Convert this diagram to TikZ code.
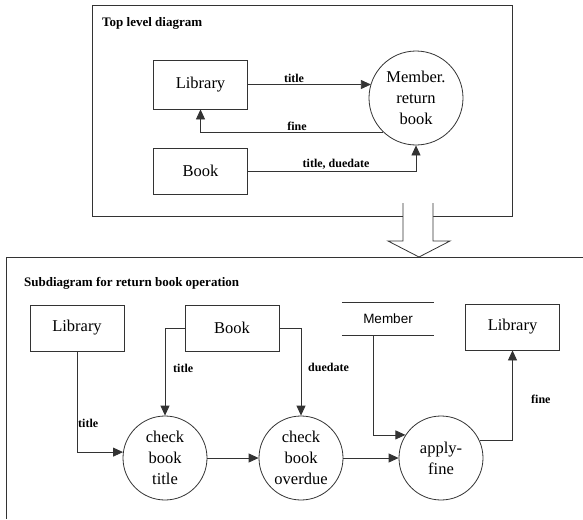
\documentclass[tikz,border=0pt]{standalone}
\usepackage{fontspec}
\setmainfont{Liberation Serif}
\newfontfamily\storefont{Liberation Sans}
\usetikzlibrary{arrows.meta}

\tikzset{
  line/.style={draw=black!80, line width=0.8pt},
  box/.style={line, rectangle, minimum width=94pt, minimum height=47pt, inner sep=0pt,
    font=\rmfamily\fontsize{16.5}{20}\selectfont},
  proc/.style={line, circle, inner sep=0pt, align=center,
    font=\rmfamily\fontsize{16.5}{21}\selectfont},
  flow/.style={line, -{Triangle[length=10pt,width=9pt]}},
  lbl/.style={font=\rmfamily\bfseries\fontsize{12}{14}\selectfont, inner sep=0pt},
  heading/.style={font=\rmfamily\bfseries\fontsize{13}{15}\selectfont, anchor=west, inner sep=0pt},
  store/.style={minimum width=92pt, minimum height=32pt, inner sep=0pt,
    font=\storefont\fontsize{13.5}{16}\selectfont}
}

\begin{document}
\begin{tikzpicture}[x=1pt, y=-1pt]
\useasboundingbox (0,0) rectangle (583,519);

% ---------- top level frame ----------
\draw[line] (403,216) -- (92,216) -- (92,5) -- (512,5) -- (512,216) -- (433,216);
\node[heading] (toptitle) at (102,23) {Top level diagram};

\node[box, minimum height=49pt] (lib) at (200.5,84.5) {Library};
\node[box, minimum height=46pt] (book) at (200.5,171) {Book};
\node[proc, minimum size=94pt] (mem) at (416,98) {Member.\\return\\book};

\draw[flow] (lib.east) -- (lib.east -| mem.162);
\draw[flow] (mem.226) -| (lib.south);
\draw[flow] (book.east) -| (mem.south);

\node[lbl] (t1) at (294,78) {title};
\node[lbl] (f1) at (297,126) {fine};
\node[lbl] (td1) at (336,164) {title, duedate};

% ---------- refinement arrow ----------
\draw[line, fill=white] (403,203) -- (403,241) -- (388,241) -- (419,257)
  -- (450,241) -- (433,241) -- (433,203);

% ---------- subdiagram frame ----------
\draw[line] (583,257) -- (6,257) -- (6,519);
\node[heading] (subtitle) at (24,283) {Subdiagram for return book operation};

\node[box, minimum height=46pt] (lib2) at (77,328) {Library};
\node[box, minimum height=46pt] (book2) at (232,328) {Book};
\node[store] (mstore) at (388,319) {Member};
\draw[line] (mstore.north west) -- (mstore.north east);
\draw[line] (mstore.south west) -- (mstore.south east);
\node[box, minimum height=46pt] (lib3) at (512.5,327) {Library};

\node[proc, minimum size=84pt] (c1) at (165,458) {check\\book\\title};
\node[proc, minimum size=84pt] (c2) at (301,458) {check\\book\\overdue};
\node[proc, minimum size=84pt] (c3) at (441,458) {apply-\\fine};

\draw[flow] (lib2.south) |- (c1.172);
\draw[flow] (book2.west) -| (c1.north);
\draw[flow] (book2.east) -| (c2.north);
\draw[flow] (c1.east) -- (c2.west);
\draw[flow] (c2.east) -- (c3.west);
\draw[flow] ([xshift=-15pt]mstore.south) |- (c3.147);
\draw[flow] (c3.24) -| (lib3.south);

\node[lbl, anchor=west] (t2) at (78,423) {title};
\node[lbl, anchor=west] (t3) at (173,368) {title};
\node[lbl, anchor=west] (d2) at (308,367) {duedate};
\node[lbl, anchor=west] (f2) at (531,399) {fine};
\end{tikzpicture}
\end{document}
